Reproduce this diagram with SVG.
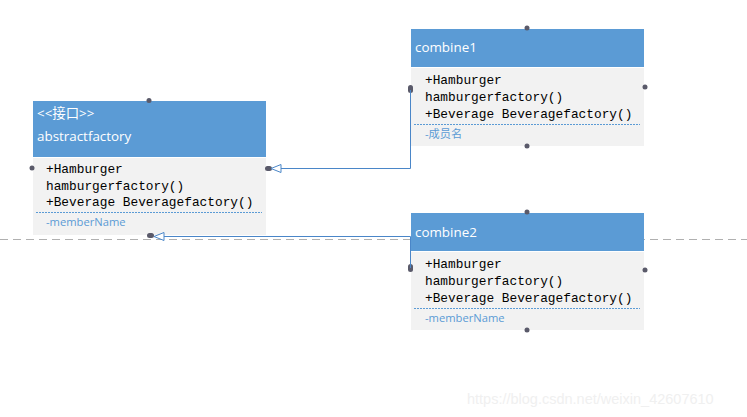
<svg xmlns="http://www.w3.org/2000/svg" width="747" height="417" viewBox="0 0 747 417">
<style>
.hdr{fill:#5b9bd5}
.body{fill:#f2f2f2}
.sep{stroke:#5b9bd5;stroke-width:1;stroke-dasharray:2 1;fill:none}
.ht{font-family:"Open Sans","Liberation Sans","Noto Sans CJK SC",sans-serif;font-size:13.4px;fill:#ffffff}
.bt{font-family:"Liberation Mono","DejaVu Sans Mono",monospace;font-size:12.8px;fill:#000000}
.mt{font-family:"Open Sans","Liberation Sans","Noto Sans CJK SC",sans-serif;font-size:11.2px;fill:#5b9bd5}
.dot{fill:#5a5a6a}
.conn{stroke:#4a86c8;stroke-width:1;fill:none}
</style>
<defs>
<marker id="tri" markerWidth="12" markerHeight="10" refX="11" refY="5" orient="auto" markerUnits="userSpaceOnUse">
<path d="M1,1 L11,5 L1,9 Z" fill="#ffffff" stroke="#4a86c8" stroke-width="1"/>
</marker>
</defs>
<line x1="0" y1="239.5" x2="747" y2="239.5" stroke="#b0b0b0" stroke-width="1" stroke-dasharray="8 5"/>
<g id="abstractfactory">
<rect class="hdr" x="33" y="101" width="233" height="56"/>
<rect class="body" x="33" y="158" width="233" height="77"/>
<text class="ht" x="37" y="118">&lt;&lt;接口&gt;&gt;</text>
<text class="ht" x="37" y="141">abstractfactory</text>
<text class="bt" x="46" y="173">+Hamburger</text>
<text class="bt" x="46" y="190">hamburgerfactory()</text>
<text class="bt" x="46" y="206">+Beverage Beveragefactory()</text>
<line class="sep" x1="36" y1="212.5" x2="262" y2="212.5"/>
<text class="mt" x="46" y="226">-memberName</text>
<circle class="dot" cx="149" cy="100.5" r="2.5"/>
<circle class="dot" cx="32" cy="168" r="2.5"/>
<rect class="dot" x="265" y="166" width="7" height="5" rx="2.5"/>
<rect class="dot" x="147" y="233" width="7" height="5" rx="2.5"/>
</g>
<g id="combine1">
<rect class="hdr" x="411" y="29" width="233" height="38"/>
<rect class="body" x="411" y="68" width="233" height="78"/>
<text class="ht" x="415" y="52">combine1</text>
<text class="bt" x="425" y="84">+Hamburger</text>
<text class="bt" x="425" y="101">hamburgerfactory()</text>
<text class="bt" x="425" y="118">+Beverage Beveragefactory()</text>
<line class="sep" x1="414" y1="124.5" x2="640" y2="124.5"/>
<text class="mt" x="425" y="138">-成员名</text>
<circle class="dot" cx="527" cy="28" r="2.5"/>
<circle class="dot" cx="645" cy="87" r="2.5"/>
<circle class="dot" cx="527" cy="146" r="2.5"/>
<rect class="dot" x="408" y="85" width="5" height="8" rx="2.5"/>
</g>
<g id="combine2">
<rect class="hdr" x="411" y="213" width="233" height="38"/>
<rect class="body" x="411" y="252" width="233" height="78"/>
<text class="ht" x="415" y="237">combine2</text>
<text class="bt" x="425" y="268">+Hamburger</text>
<text class="bt" x="425" y="285">hamburgerfactory()</text>
<text class="bt" x="425" y="302">+Beverage Beveragefactory()</text>
<line class="sep" x1="414" y1="308.5" x2="640" y2="308.5"/>
<text class="mt" x="425" y="322">-memberName</text>
<circle class="dot" cx="527" cy="212" r="2.5"/>
<circle class="dot" cx="645" cy="270" r="2.5"/>
<circle class="dot" cx="527" cy="330" r="2.5"/>
<rect class="dot" x="408" y="264" width="5" height="8" rx="2.5"/>
</g>
<g id="connectors">
<path class="conn" d="M410.5,90 V168.5 H271" marker-end="url(#tri)"/>
<path class="conn" d="M410.5,268 V236.5 H154" marker-end="url(#tri)"/>
</g>
<text x="467" y="404" font-family="Liberation Sans, Arial, sans-serif" font-size="14.5" fill="#f0f0f0">https://blog.csdn.net/weixin_42607610</text>
</svg>
